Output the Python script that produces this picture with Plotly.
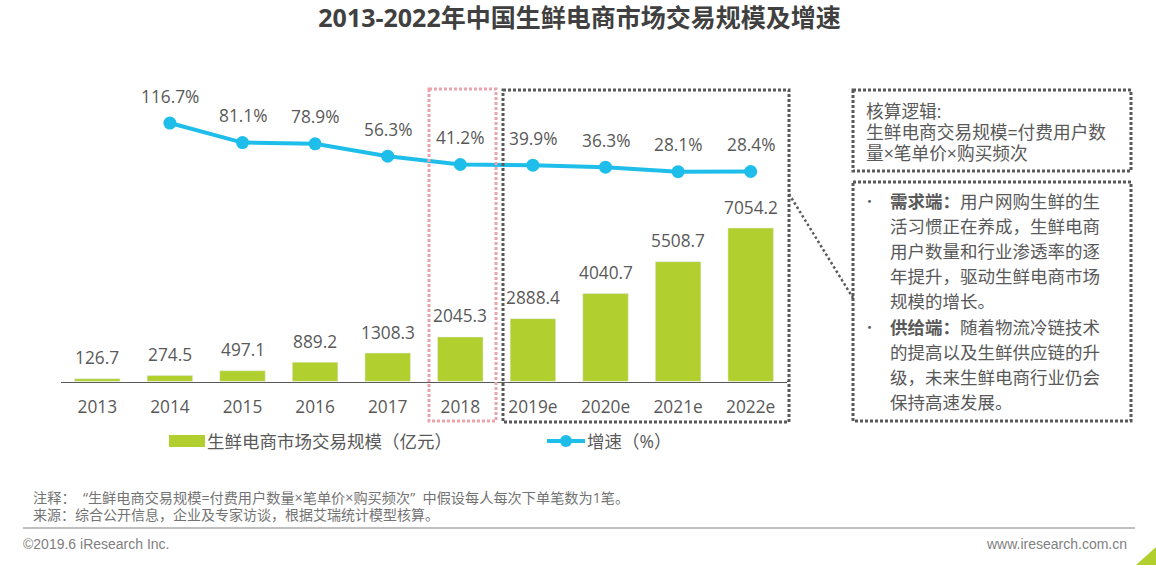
import plotly.graph_objects as go

W, H = 1156, 568
years = ["2013", "2014", "2015", "2016", "2017", "2018", "2019e", "2020e", "2021e", "2022e"]
market_size = [126.7, 274.5, 497.1, 889.2, 1308.3, 2045.3, 2888.4, 4040.7, 5508.7, 7054.2]
growth = [None, 116.7, 81.1, 78.9, 56.3, 41.2, 39.9, 36.3, 28.1, 28.4]

title_text = "2013-2022年中国生鲜电商市场交易规模及增速"
bar_name = "生鲜电商市场交易规模（亿元）"
line_name = "增速（%）"
logic_lines = ["核算逻辑:", "生鲜电商交易规模=付费用户数", "量×笔单价×购买频次"]
insight_lines = [
    "<b>需求端：</b>用户网购生鲜的生",
    "活习惯正在养成，生鲜电商",
    "用户数量和行业渗透率的逐",
    "年提升，驱动生鲜电商市场",
    "规模的增长。",
    "<b>供给端：</b>随着物流冷链技术",
    "的提高以及生鲜供应链的升",
    "级，未来生鲜电商行业仍会",
    "保持高速发展。",
]
insight_y = [202, 227, 252, 277, 302, 328, 353, 378, 403]
bullet_y = [202, 328]
note_lines = [
    "注释：\u00a0\u00a0“生鲜电商交易规模=付费用户数量×笔单价×购买频次”\u00a0\u00a0中假设每人每次下单笔数为1笔。",
    "来源：综合公开信息，企业及专家访谈，根据艾瑞统计模型核算。",
]
note_sizes = [14.2, 14]

CJK = "Noto Sans CJK SC"
MIX = "Open Sans, Noto Sans CJK SC"
TXT = "#595959"
GREEN = "#B1D02F"
BLUE = "#1FBEEA"
DARK = "#595959"
PINK = "#EBA3AC"


def px(x):
    return x / W


def py(y):
    return 1 - y / H


fig = go.Figure()
fig.add_bar(x=years, y=market_size, name=bar_name, marker_color=GREEN, yaxis="y", showlegend=False,
            hoverinfo="x+y")
fig.add_scatter(x=years, y=growth, name=line_name, yaxis="y2", mode="lines+markers", showlegend=False,
                line=dict(color=BLUE, width=4), marker=dict(color=BLUE, size=13))

ann = []


def text(x, y, s, size=17.5, color=TXT, anchor="left", family=MIX, dy=1.2):
    xx = x - 2 if anchor == "left" else x + 2
    ann.append(dict(xref="paper", yref="paper", x=px(xx), y=py(y - dy), text=s, showarrow=False,
                    xanchor=anchor, yanchor="middle", align=anchor,
                    font=dict(size=size, color=color, family=family)))


for i, v in enumerate(market_size):
    ann.append(dict(x=i, y=v, xref="x", yref="y", text=f"{v:.1f}", showarrow=False, yshift=21,
                    yanchor="middle", font=dict(size=17.3, color=TXT, family="Open Sans")))
for i, v in enumerate(growth):
    if v is not None:
        ann.append(dict(x=i, y=v, xref="x", yref="y2", text=f"{v:.1f}%", showarrow=False, yshift=27,
                        yanchor="middle", font=dict(size=17.3, color=TXT, family="Open Sans")))

text(207, 441, bar_name, dy=0.5)
text(587, 441, line_name, dy=0.5)
for s, y in zip(logic_lines, [111, 132, 153]):
    text(866, y, s, size=17.7, dy=0.3)
for s, y in zip(insight_lines, insight_y):
    text(890, y, s)
for y in bullet_y:
    text(863, y, "•", size=13, family=CJK)
for s, y, sz in zip(note_lines, [498, 515], note_sizes):
    text(33, y, s, size=sz, color="#737373", dy=0.4)
text(23, 544, "©2019.6 iResearch Inc.", size=14, color="#7F7F7F", family="Liberation Sans", dy=0)
text(1127, 544, "www.iresearch.com.cn", size=14, color="#7F7F7F", anchor="right", family="Liberation Sans", dy=0)


def rect(x0, y0, x1, y1, color, width=3, dash="3px,2px"):
    return dict(type="rect", xref="paper", yref="paper", x0=px(x0), x1=px(x1), y0=py(y0), y1=py(y1),
                line=dict(color=color, width=width, dash=dash), fillcolor="rgba(0,0,0,0)")


def line(x0, y0, x1, y1, color, width=1, dash="solid"):
    return dict(type="line", xref="paper", yref="paper", x0=px(x0), x1=px(x1), y0=py(y0), y1=py(y1),
                line=dict(color=color, width=width, dash=dash))


shapes = [
    rect(429, 89, 496, 421, PINK),
    rect(503, 90, 789, 422, DARK),
    rect(853, 90, 1131, 171, DARK),
    rect(853, 182, 1131, 421, DARK),
    line(789, 194, 853, 298, DARK, 2.5, "2.5px,2.5px"),
    line(787, 381.5, 790, 381.5, DARK, 1),
    line(23, 528, 1135, 528, "#808080", 1),
    dict(type="rect", xref="paper", yref="paper", x0=px(169), x1=px(205), y0=py(435), y1=py(447),
         fillcolor=GREEN, line_width=0),
    line(547, 441, 585, 441, BLUE, 4),
    dict(type="circle", xref="paper", yref="paper", x0=px(560), x1=px(572), y0=py(435), y1=py(447),
         fillcolor=BLUE, line_width=0),
    dict(type="path", xref="paper", yref="paper",
         path=f"M{px(1136)},{py(565)} L{px(1156)},{py(547)} L{px(1156)},{py(565)} Z",
         fillcolor=GREEN, line_width=0),
]

fig.update_layout(
    width=W, height=H, autosize=False, margin=dict(l=0, r=0, t=0, b=0),
    paper_bgcolor="white", plot_bgcolor="white", showlegend=False, bargap=0.373,
    title=dict(text=f"<b>{title_text}</b>", x=579.5 / W, xanchor="center", y=py(18), yanchor="middle",
               font=dict(size=25, color="#404040", family=MIX)),
    xaxis=dict(domain=[px(61), px(787)], type="category", categoryorder="array", categoryarray=years,
               range=[-0.5, 9.5], showgrid=False, showline=True, linecolor=DARK, linewidth=1, zeroline=False,
               ticks="outside", ticklen=10, tickcolor="rgba(0,0,0,0)",
               tickfont=dict(size=17.3, color=TXT, family="Open Sans"), tickangle=0, anchor="y"),
    yaxis=dict(domain=[py(381.5), py(88)], range=[0, 13488], visible=False, fixedrange=True),
    yaxis2=dict(domain=[py(381.5), py(88)], range=[-354, 180.5], visible=False, overlaying="y",
                side="right", fixedrange=True),
    annotations=ann, shapes=shapes,
)

fig.write_html("out.html", config=dict(displayModeBar=False),
               post_script="document.body.style.margin='0';document.body.style.overflow='hidden';")
